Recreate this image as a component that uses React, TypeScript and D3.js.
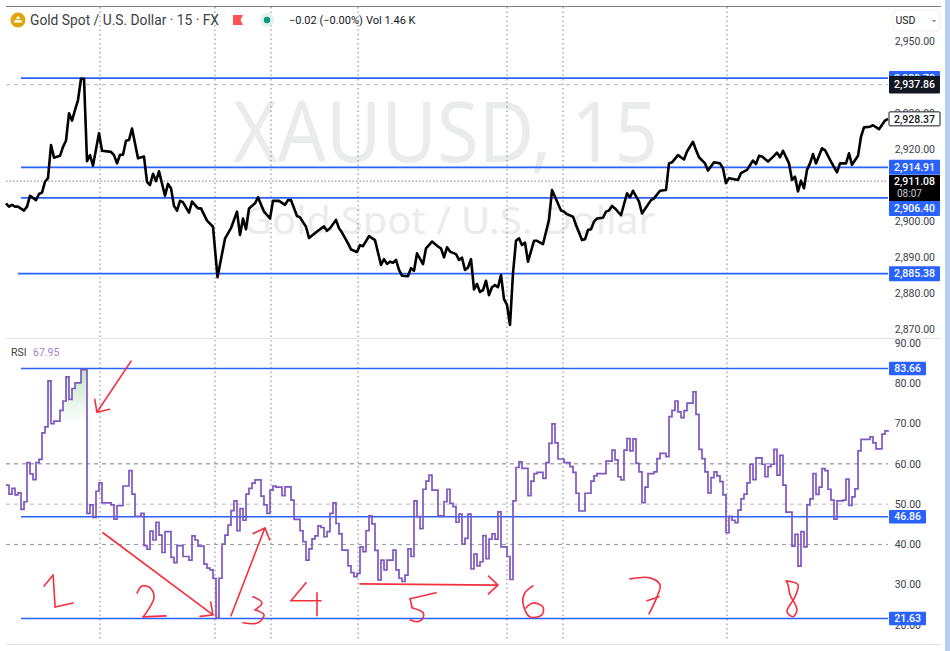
import React from 'react';
import * as d3 from 'd3';

const WIDTH = 950;
const HEIGHT = 651;

// [bar, price] turning points
const pricePoints: [number, number][] = [
  [0,2904.9],[1,2904.0],[2,2904.5],[3,2904.0],[4,2904.0],[6,2902.9],[7,2904.0],[8,2907.0],[10,2905.8],[11,2907.5],
  [12,2907.9],[13,2910.9],[14,2911.9],[15,2921.1],[16,2917.6],[18,2918.1],[19,2920.6],[20,2922.3],[21,2929.9],[22,2927.9],
  [23,2930.8],[24,2933.6],[25,2939.5],[26,2939.5],[27,2916.6],[28,2918.3],[29,2915.4],[31,2924.4],[32,2919.5],[35,2919.2],
  [36,2918.3],[37,2916.0],[38,2918.4],[39,2918.4],[40,2922.3],[41,2922.5],[42,2925.7],[44,2917.4],[46,2917.9],[47,2910.9],
  [48,2910.0],[49,2913.1],[50,2911.1],[51,2913.8],[53,2907.0],[54,2910.3],[55,2909.1],[56,2904.2],[57,2902.9],[58,2905.6],
  [59,2905.2],[61,2902.3],[62,2905.4],[64,2903.5],[65,2903.5],[67,2900.1],[69,2898.4],[70.5,2884.4],[73,2895.1],[75,2898.0],
  [77,2902.6],[78,2896.1],[79,2900.7],[80,2897.7],[81,2903.5],[83,2904.9],[84,2906.6],[86,2902.6],[88,2900.7],[89,2905.6],
  [91,2905.6],[93,2904.5],[94,2905.8],[95,2905.8],[97,2901.4],[98,2901.0],[100,2898.4],[101,2895.3],[104,2897.3],[106,2898.5],
  [107,2897.3],[108,2898.0],[110,2900.3],[111,2898.0],[112,2896.8],[114,2893.8],[115,2892.1],[117,2891.4],[118,2893.3],[119,2893.0],
  [121,2895.8],[123,2894.7],[125,2887.8],[126,2889.4],[127,2888.1],[128,2888.7],[129,2888.4],[130,2889.2],[131,2886.4],[132,2884.8],
  [134,2884.7],[135,2886.9],[136,2886.2],[137,2891.0],[139,2888.0],[140,2892.4],[142,2894.3],[144,2892.9],[145,2892.4],[146,2889.9],
  [147,2892.7],[148,2891.5],[150,2890.8],[151,2889.2],[152,2889.8],[153,2886.4],[154,2887.1],[155,2889.4],[156,2881.0],[157,2882.5],
  [158,2880.3],[159,2880.8],[160,2883.4],[161,2879.4],[162,2881.6],[163,2882.2],[164,2881.6],[165,2885.0],[166,2878.3],[167,2876.7],
  [168,2871.1],[169,2885.5],[170,2894.5],[171,2895.2],[172,2893.3],[173,2894.0],[174,2888.7],[176,2894.5],[177,2894.5],[179,2893.6],
  [181,2900.3],[182,2908.6],[185,2902.9],[186,2902.6],[187,2901.9],[189,2901.2],[190,2898.9],[192,2894.7],[193,2894.9],[194,2897.5],
  [195,2897.7],[196,2899.8],[197,2900.7],[199,2900.9],[200,2902.6],[201,2902.9],[202,2904.2],[203,2903.5],[205,2901.6],[207,2907.7],
  [208,2906.6],[209,2908.4],[211,2905.4],[212,2902.1],[215,2905.8],[216,2906.3],[218,2908.4],[220,2908.6],[221,2916.0],[222,2916.3],
  [224,2918.3],[226,2917.1],[227,2919.3],[229,2922.0],[230,2919.7],[231,2917.7],[233,2916.0],[234,2914.0],[236,2916.3],[238,2916.0],
  [239,2914.6],[240,2910.5],[241,2911.9],[244,2911.4],[245,2913.3],[247,2914.2],[249,2916.8],[250,2915.8],[251,2918.1],[252,2917.9],
  [254,2916.5],[256,2918.1],[257,2919.0],[258,2917.7],[259,2919.5],[261,2916.0],[262,2911.4],[263,2912.3],[264,2908.2],[265,2911.2],
  [266,2909.1],[267,2914.2],[268,2916.0],[269,2918.6],[270,2916.0],[272,2920.2],[273,2919.7],[275,2916.5],[277,2913.5],[278,2916.0],
  [280,2916.0],[281,2918.8],[282,2915.6],[284,2918.1],[285,2923.4],[286,2926.0],[288,2926.2],[289,2926.6],[291,2925.5],[293,2927.9],
  [294,2928.37],
];

// [bar, rsi] each level holds until the next bar listed
const rsiSteps: [number, number][] = [
  [0,54.7],[1,52.5],[2,53.9],[3,52.3],[4,52.8],[5,48.7],[6,50.6],[7,60.3],[8,57.5],[9,56.1],
  [10,60.3],[11,61.1],[12,67.7],[13,69.2],[14,80.6],[15,70.0],[16,70.6],[18,73.3],[19,75.6],[20,81.6],
  [21,76.0],[22,78.7],[23,80.1],[25,83.4],[27,47.7],[28,49.8],[29,46.7],[30,53.2],[31,55.3],[32,50.3],
  [35,49.8],[36,46.3],[37,49.6],[39,54.5],[41,58.3],[42,52.5],[43,47.0],[45,47.7],[46,39.7],[47,38.8],
  [48,43.3],[49,41.1],[50,45.5],[51,42.3],[52,38.0],[53,43.2],[55,36.8],[56,35.5],[57,39.7],[59,37.0],
  [61,36.1],[62,42.1],[63,41.1],[64,39.6],[66,35.1],[67,34.1],[68,33.7],[69,31.6],[70,21.7],[71,31.6],
  [72,40.1],[73,42.3],[74,44.8],[75,48.4],[76,50.8],[77,43.4],[78,48.9],[79,46.0],[80,52.5],[81,53.9],
  [82,55.2],[83,56.0],[85,52.0],[86,49.8],[87,47.7],[88,53.5],[89,54.5],[90,54.2],[92,52.1],[93,54.3],
  [95,51.0],[96,46.2],[98,43.4],[99,40.7],[100,36.1],[101,38.9],[102,41.4],[103,42.1],[104,44.6],[105,44.2],
  [106,41.9],[107,43.2],[108,47.7],[109,50.3],[110,45.2],[111,42.6],[112,38.6],[114,34.7],[115,33.0],[116,32.0],
  [117,32.8],[118,39.4],[119,38.2],[120,43.4],[121,47.1],[122,45.1],[123,38.5],[124,31.2],[125,36.1],[126,33.7],
  [127,36.1],[129,38.6],[130,33.7],[131,31.6],[132,30.8],[133,32.4],[134,38.9],[135,37.0],[136,50.8],[137,46.9],
  [138,43.9],[139,53.7],[140,55.7],[141,57.2],[142,53.5],[144,47.1],[146,50.6],[147,53.7],[148,50.2],[149,49.4],
  [150,45.5],[151,47.5],[152,40.1],[153,41.5],[154,47.5],[155,33.9],[156,37.6],[157,34.7],[158,35.7],[159,42.2],
  [160,36.5],[161,41.3],[162,42.6],[163,41.3],[164,48.1],[165,39.4],[167,37.0],[168,31.3],[169,50.8],[170,59.1],
  [171,60.5],[172,58.9],[174,52.1],[175,55.7],[176,57.6],[177,57.9],[179,56.4],[180,60.3],[181,65.1],[182,69.9],
  [183,65.2],[184,61.2],[186,60.3],[188,59.3],[189,57.9],[190,52.7],[191,48.3],[193,52.7],[195,55.7],[196,57.0],
  [197,57.6],[200,60.7],[202,63.4],[203,61.0],[204,56.8],[205,56.0],[206,63.4],[207,66.3],[208,63.2],[209,66.2],
  [210,60.1],[211,58.0],[212,50.4],[213,54.2],[214,57.6],[216,58.0],[217,61.3],[218,62.6],[220,61.8],[221,71.7],
  [222,73.3],[223,75.6],[224,72.9],[225,71.5],[226,73.2],[227,75.1],[229,77.9],[230,72.3],[231,63.6],[232,61.3],
  [233,58.0],[234,52.8],[235,56.6],[236,58.0],[237,57.0],[238,55.6],[239,52.3],[240,42.9],[241,47.0],[242,46.0],
  [243,45.4],[244,48.5],[245,51.3],[246,52.5],[247,55.3],[248,59.9],[249,56.1],[250,61.5],[252,59.9],[253,56.8],
  [254,59.3],[255,59.9],[256,63.6],[257,57.2],[258,62.1],[259,54.7],[260,48.0],[262,39.6],[263,42.5],[264,34.6],
  [265,43.2],[266,39.4],[267,49.8],[268,51.3],[269,57.6],[270,52.4],[271,54.2],[272,58.8],[273,58.3],[274,53.7],
  [275,51.0],[276,46.3],[277,50.8],[279,51.0],[280,56.2],[281,49.7],[282,51.8],[283,53.8],[284,63.2],[285,66.1],
  [288,66.7],[289,65.2],[290,63.7],[292,67.4],[293,68.2],[294,67.95],
];

const sessionBars = [31.33, 69.67, 88.33, 117.33, 167, 185.67, 240.33];
// 2,940 and 2,910 sit fully behind the price boxes, so they are left out
const priceTicks = [2950, 2930, 2920, 2900, 2890, 2880, 2870];
const rsiTicks = [90, 80, 70, 60, 50, 40, 30, 20];
const priceLevels = [
  { value: 2939.7, from: 5 },
  { value: 2914.91, from: 5 },
  { value: 2906.4, from: 5 },
  { value: 2885.38, from: 4 },
];
const rsiLevels = [83.66, 46.86, 21.63];
const rsiBands = [
  { value: 60, color: '#787b86' },
  { value: 50, color: '#b2b5be' },
  { value: 40, color: '#9598a1' },
];

// hand drawn red notes, placed in chart units
const arrows: { from: [number, number]; to: [number, number] }[] = [
  { from: [41.7, 85.5], to: [30.3, 72.8] },
  { from: [32.3, 42.9], to: [69, 22.5] },
  { from: [75, 22.3], to: [86.3, 44.1] },
  { from: [118, 30.2], to: [164, 29.9] },
];
const digits: { at: [number, number]; strokes: [number, number][][] }[] = [
  { at: [12.7, 32.4], strokes: [[[0,11],[9,0]], [[9,0],[11,32]], [[11,32],[29,28]]] },
  { at: [43.7, 29.7], strokes: [[[0,7],[5,0],[13,2],[17,11],[11,24],[6,31]], [[6,31],[29,30]]] },
  { at: [79, 27], strokes: [[[10,0],[19,6],[12,13]], [[12,13],[21,18],[15,26],[0,26]]] },
  { at: [95, 30.5], strokes: [[[15,0],[0,18]], [[0,18],[30,18]], [[26,10],[26,33]]] },
  { at: [134.7, 28], strokes: [[[26,0],[0,6]], [[0,6],[2,15]], [[2,15],[13,20],[13,25],[7,29],[0,27]]] },
  { at: [172.3, 29.7], strokes: [[[10,0],[2,7],[0,17],[7,31],[19,29],[20,21],[10,17],[3,22]]] },
  { at: [208, 31.7], strokes: [[[0,1],[20,0],[30,7],[27,19],[19,36]], [[17,23],[29,19]]] },
  { at: [260, 31], strokes: [[[0,0],[12,4],[9,16],[1,31],[7,36],[11,29],[4,14],[2,4],[0,0]]] },
];

const FONT = 'Roboto, "Noto Sans", sans-serif';
const BLUE = '#2962ff';
const INK = '#f4303f';
const fmt = d3.format(',.2f');

const x = d3.scaleLinear().domain([0, 294]).range([6, 888]);
const yPrice = d3.scaleLinear().domain([2870, 2950]).range([329, 41]);
const yRsi = d3.scaleLinear().domain([20, 90]).range([625, 343]);

const priceLine = d3
  .line<[number, number]>()
  .x((d) => x(d[0]))
  .y((d) => yPrice(d[1]));
const rsiLine = d3
  .line<[number, number]>()
  .x((d) => x(d[0]))
  .y((d) => yRsi(d[1]))
  .curve(d3.curveStepAfter);
const overArea = d3
  .area<[number, number]>()
  .x((d) => x(d[0]))
  .y0(yRsi(70))
  .y1((d) => yRsi(d[1]))
  .curve(d3.curveStepAfter);
const underArea = d3
  .area<[number, number]>()
  .x((d) => x(d[0]))
  .y0(yRsi(30))
  .y1((d) => yRsi(d[1]))
  .curve(d3.curveStepAfter);
const inkLine = d3
  .line<[number, number]>()
  .x((d) => d[0])
  .y((d) => d[1])
  .curve(d3.curveCatmullRom.alpha(0.5));

const arrowPath = (a: { from: [number, number]; to: [number, number] }) => {
  const x0 = x(a.from[0]);
  const y0 = yRsi(a.from[1]);
  const x1 = x(a.to[0]);
  const y1 = yRsi(a.to[1]);
  const angle = Math.atan2(y1 - y0, x1 - x0);
  const barb = (off: number) =>
    `${x1 - 13 * Math.cos(angle + off)},${y1 - 13 * Math.sin(angle + off)}`;
  return `M${x0},${y0}L${x1},${y1}M${barb(0.75)}L${x1},${y1}L${barb(-0.75)}`;
};

const AxisBox = ({ y, h, w, fill, label, color = '#fff', stroke }: any) => (
  <g>
    <rect x={889} y={y - h / 2} width={w} height={h} fill={fill} stroke={stroke} rx={1} />
    <text x={889 + w - 5} y={y + 3.7} textAnchor="end" fontSize={10.5} fill={color} fontWeight={500}>
      {label}
    </text>
  </g>
);

export default function App() {
  return (
    <svg
      width={WIDTH}
      height={HEIGHT}
      style={{ position: 'absolute', left: 0, top: 0, background: '#fff' }}
      fontFamily={FONT}
    >
      <defs>
        <linearGradient id="overFill" gradientUnits="userSpaceOnUse" x1={0} x2={0} y1={yRsi(84)} y2={yRsi(70)}>
          <stop offset="0%" stopColor="#4caf50" stopOpacity={0.35} />
          <stop offset="100%" stopColor="#4caf50" stopOpacity={0} />
        </linearGradient>
        <linearGradient id="underFill" gradientUnits="userSpaceOnUse" x1={0} x2={0} y1={yRsi(30)} y2={yRsi(20)}>
          <stop offset="0%" stopColor="#f23645" stopOpacity={0} />
          <stop offset="100%" stopColor="#f23645" stopOpacity={0.3} />
        </linearGradient>
        <clipPath id="overClip">
          <rect x={0} y={yRsi(90)} width={WIDTH} height={yRsi(70) - yRsi(90)} />
        </clipPath>
        <clipPath id="underClip">
          <rect x={0} y={yRsi(30)} width={WIDTH} height={yRsi(20) - yRsi(30)} />
        </clipPath>
      </defs>

      <rect x={945} y={0} width={5} height={HEIGHT} fill="#b5cff7" />
      <line x1={6} x2={941} y1={6.5} y2={6.5} stroke="#7d7f87" strokeWidth={1} />
      <line x1={6} x2={941} y1={338.5} y2={338.5} stroke="#e0e3eb" strokeWidth={1} />
      <line x1={6} x2={941} y1={644.5} y2={644.5} stroke="#e0e3eb" strokeWidth={1} />

      {/* watermark */}
      <text
        x={233}
        y={162}
        fontSize={84}
        fill="#eaebed"
        fontFamily='"Noto Sans", sans-serif'
        textLength={425}
        lengthAdjust="spacingAndGlyphs"
      >
        XAUUSD, 15
      </text>
      <text
        x={243}
        y={234}
        fontSize={39}
        fill="#eaebed"
        fontFamily='"Noto Sans", sans-serif'
        textLength={412}
        lengthAdjust="spacingAndGlyphs"
      >
        Gold Spot / U.S. Dollar
      </text>

      {/* session grid */}
      {sessionBars.map((b) => (
        <line key={b} x1={x(b)} x2={x(b)} y1={7} y2={640} stroke="#7d808a" strokeWidth={1} strokeDasharray="1.5 3" />
      ))}

      {/* last price helpers */}
      <line x1={6} x2={888} y1={yPrice(2937.86)} y2={yPrice(2937.86)} stroke="#b2b5be" strokeDasharray="4 4" />
      <line x1={6} x2={888} y1={yPrice(2911.08)} y2={yPrice(2911.08)} stroke="#787b86" strokeDasharray="1.5 2" />

      {rsiBands.map((b) => (
        <line key={b.value} x1={6} x2={888} y1={yRsi(b.value)} y2={yRsi(b.value)} stroke={b.color} strokeDasharray="4 4" />
      ))}

      {/* rsi fills */}
      <path d={overArea(rsiSteps) ?? ''} fill="url(#overFill)" clipPath="url(#overClip)" />
      <path d={underArea(rsiSteps) ?? ''} fill="url(#underFill)" clipPath="url(#underClip)" />

      {/* drawn levels */}
      {priceLevels.map((l) => (
        <line key={l.value} x1={x(l.from)} x2={888} y1={yPrice(l.value)} y2={yPrice(l.value)} stroke={BLUE} strokeWidth={1.8} />
      ))}
      {rsiLevels.map((v) => (
        <line key={v} x1={x(5)} x2={888} y1={yRsi(v)} y2={yRsi(v)} stroke={BLUE} strokeWidth={1.6} />
      ))}

      <path d={priceLine(pricePoints) ?? ''} fill="none" stroke="#000" strokeWidth={2.6} strokeLinejoin="round" />
      <path d={rsiLine(rsiSteps) ?? ''} fill="none" stroke="#7e57c2" strokeWidth={1.7} />

      {/* red notes */}
      <g fill="none" stroke={INK} strokeWidth={1.6} strokeLinecap="round" strokeLinejoin="round">
        {arrows.map((a, i) => (
          <path key={i} d={arrowPath(a)} />
        ))}
        {digits.map((d, i) => (
          <g key={i} transform={`translate(${x(d.at[0])},${yRsi(d.at[1])})`}>
            {d.strokes.map((s, j) => (
              <path key={j} d={inkLine(s) ?? ''} />
            ))}
          </g>
        ))}
      </g>

      {/* header */}
      <circle cx={18} cy={20} r={7.5} fill="#dfa30b" />
      <path d="M13.5,22.5h9l-1.6,-2.5h-5.8zM15.8,19h4.4l-1.4,-2.6h-1.6z" fill="#fff" />
      <text x={30} y={24.5} fontSize={13.8} fill="#3b3e47">
        Gold Spot / U.S. Dollar · 15 · FX
      </text>
      <path d="M233,15h10l-2.5,5l2.5,5h-10z" fill="#ff5252" />
      <circle cx={267} cy={20} r={7} fill="#e0f2ef" />
      <circle cx={267} cy={20} r={3.2} fill="#089981" />
      <text x={289} y={24} fontSize={11} fill="#131722">
        −0.02 (−0.00%)
      </text>
      <text x={366} y={24} fontSize={11} fill="#131722">
        Vol 1.46 K
      </text>

      {/* usd button */}
      <rect x={893} y={10} width={47} height={21} rx={3} fill="#fff" stroke="#eceef2" />
      <text x={895.5} y={24} fontSize={10.5} fill="#131722">
        USD
      </text>
      <path d="M932.5,20l1.5,1.5l1.5,-1.5" fill="none" stroke="#131722" strokeWidth={0.9} />

      {/* price scale */}
      {priceTicks.map((t) => (
        <text key={t} x={935} y={yPrice(t) + 3.7} textAnchor="end" fontSize={10.5} fill="#3b3e47">
          {fmt(t)}
        </text>
      ))}
      <AxisBox y={yPrice(2939.7)} h={14} w={51} fill={BLUE} label={fmt(2939.7)} />
      <AxisBox y={yPrice(2937.86)} h={17.5} w={51} fill="#131722" label={fmt(2937.86)} />
      <AxisBox y={yPrice(2928.37)} h={14} w={51} fill="#fff" stroke="#131722" color="#131722" label={fmt(2928.37)} />
      <AxisBox y={yPrice(2914.91)} h={15} w={51} fill={BLUE} label={fmt(2914.91)} />
      <rect x={889} y={175} width={51} height={26} fill="#000" />
      <text x={935} y={yPrice(2911.08) + 3.7} textAnchor="end" fontSize={10.5} fill="#fff" fontWeight={500}>
        {fmt(2911.08)}
      </text>
      <text x={897} y={196.5} fontSize={10} fill="#c8cad0">
        08:07
      </text>
      <AxisBox y={208.5} h={15} w={51} fill={BLUE} label={fmt(2906.4)} />
      <AxisBox y={yPrice(2885.38)} h={15} w={51} fill={BLUE} label={fmt(2885.38)} />

      {/* rsi scale */}
      {rsiTicks.map((t) => (
        <text key={t} x={921} y={yRsi(t) + 3.7} textAnchor="end" fontSize={10.5} fill="#3b3e47">
          {fmt(t)}
        </text>
      ))}
      {rsiLevels.map((v) => (
        <AxisBox key={v} y={yRsi(v)} h={13.5} w={37} fill={BLUE} label={fmt(v)} />
      ))}

      {/* rsi legend */}
      <text x={11} y={356} fontSize={10.5} fill="#3b3e47">
        RSI
      </text>
      <text x={33} y={356} fontSize={10.5} fill="#9c84d4">
        67.95
      </text>
    </svg>
  );
}
